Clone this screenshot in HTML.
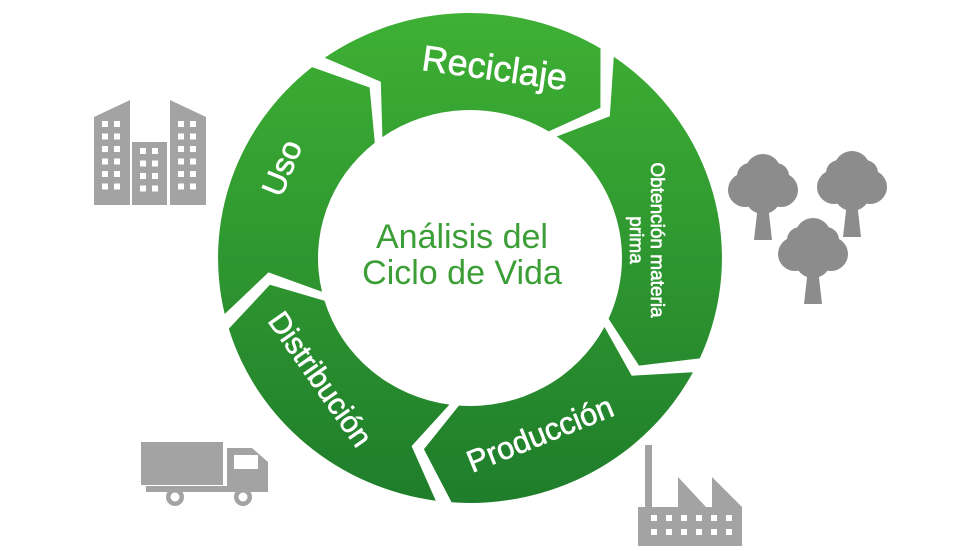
<!DOCTYPE html>
<html><head><meta charset="utf-8"><style>
html,body{margin:0;padding:0;background:#fff;}
svg{display:block;}
text{font-family:"Liberation Sans",sans-serif;}
</style></head><body>
<svg width="979" height="551" viewBox="0 0 979 551" xmlns="http://www.w3.org/2000/svg">
<defs>
<linearGradient id="g" gradientUnits="userSpaceOnUse" x1="0" y1="13" x2="0" y2="503">
<stop offset="0" stop-color="#3eb034"/><stop offset="1" stop-color="#1f7d2b"/>
</linearGradient>
</defs>
<g fill="url(#g)">
<path d="M224.7,314.0 A252,245 0 0 1 312.1,67.1 L369.6,87.5 L374.8,142.7 A152,148 0 0 0 322.0,291.8 L268.5,272.4 Z"/>
<path d="M324.7,57.8 A252,245 0 0 1 600.5,48.4 L600.4,107.9 L548.7,131.4 A152,148 0 0 0 382.4,137.1 L380.8,81.7 Z"/>
<path d="M613.8,56.8 A252,245 0 0 1 699.8,358.4 L639.0,365.6 L608.6,318.7 A152,148 0 0 0 556.7,136.5 L609.8,116.2 Z"/>
<path d="M692.9,372.3 A252,245 0 0 1 451.6,502.3 L423.9,449.3 L458.9,405.6 A152,148 0 0 0 604.5,327.0 L631.7,375.7 Z"/>
<path d="M435.8,500.7 A252,245 0 0 1 228.8,328.8 L269.9,284.7 L324.5,300.8 A152,148 0 0 0 449.4,404.6 L411.6,446.1 Z"/>
</g>

<text x="462" y="248" font-size="34" fill="#3c9e36" text-anchor="middle">Análisis del</text>
<text x="462" y="284" font-size="34" fill="#3c9e36" text-anchor="middle">Ciclo de Vida</text>

<g fill="#fff" stroke="#fff" stroke-width="0.6">
<text transform="translate(493,80) rotate(8)" font-size="36" text-anchor="middle">Reciclaje</text>
<text transform="translate(292,172) rotate(-68)" font-size="32" text-anchor="middle">Uso</text>
<text transform="translate(651,240) rotate(90)" font-size="19" text-anchor="middle">Obtención materia</text>
<text transform="translate(630,240) rotate(90)" font-size="19" text-anchor="middle">prima</text>
<text transform="translate(544,444) rotate(-22)" font-size="31" text-anchor="middle">Producción</text>
<text transform="translate(312,385) rotate(55)" font-size="30" text-anchor="middle">Distribución</text>
</g>

<g fill="#a3a3a3">
<polygon points="94,117 130,100 130,205 94,205"/>
<rect x="132" y="142" width="35" height="63"/>
<polygon points="170,100 206,117 206,205 170,205"/>
</g>
<g fill="#fff">
<rect x="102" y="121" width="6" height="6"/><rect x="114" y="121" width="6" height="6"/>
<rect x="102" y="133.5" width="6" height="6"/><rect x="114" y="133.5" width="6" height="6"/>
<rect x="102" y="146" width="6" height="6"/><rect x="114" y="146" width="6" height="6"/>
<rect x="102" y="158.5" width="6" height="6"/><rect x="114" y="158.5" width="6" height="6"/>
<rect x="102" y="171" width="6" height="6"/><rect x="114" y="171" width="6" height="6"/>
<rect x="102" y="183.5" width="6" height="6"/><rect x="114" y="183.5" width="6" height="6"/>
<rect x="178" y="121" width="6" height="6"/><rect x="190" y="121" width="6" height="6"/>
<rect x="178" y="133.5" width="6" height="6"/><rect x="190" y="133.5" width="6" height="6"/>
<rect x="178" y="146" width="6" height="6"/><rect x="190" y="146" width="6" height="6"/>
<rect x="178" y="158.5" width="6" height="6"/><rect x="190" y="158.5" width="6" height="6"/>
<rect x="178" y="171" width="6" height="6"/><rect x="190" y="171" width="6" height="6"/>
<rect x="178" y="183.5" width="6" height="6"/><rect x="190" y="183.5" width="6" height="6"/>
<rect x="140" y="148" width="6" height="6"/><rect x="152" y="148" width="6" height="6"/>
<rect x="140" y="160.5" width="6" height="6"/><rect x="152" y="160.5" width="6" height="6"/>
<rect x="140" y="173" width="6" height="6"/><rect x="152" y="173" width="6" height="6"/>
<rect x="140" y="185.5" width="6" height="6"/><rect x="152" y="185.5" width="6" height="6"/>
</g>

<g fill="#8c8c8c">
<g id="t1">
<circle cx="763" cy="172" r="18"/><circle cx="745" cy="190" r="17"/><circle cx="781" cy="190" r="17"/><circle cx="763" cy="196" r="18"/>
<circle cx="750" cy="176" r="13"/><circle cx="776" cy="176" r="13"/>
<polygon points="758,205 768,205 772,240 754,240"/>
</g>
<use href="#t1" transform="translate(89,-3)"/>
<use href="#t1" transform="translate(50,64)"/>
</g>

<g fill="#a3a3a3">
<rect x="141" y="442" width="82" height="43"/>
<polygon points="227,448 252,448 268,462 268,492 227,492"/>
<rect x="146" y="486" width="120" height="6"/>
<circle cx="175" cy="497" r="9"/><circle cx="243" cy="497" r="9"/>
</g>
<g fill="#fff"><rect x="234" y="455" width="24" height="14"/>
<circle cx="175" cy="497" r="4.5"/><circle cx="243" cy="497" r="4.5"/></g>

<g fill="#a3a3a3">
<rect x="645" y="445" width="7" height="65"/>
<polygon points="638,507 678,507 678,477 706,507 712,507 712,477 742,507 742,546 638,546"/>
</g>
<g fill="#fff">
<rect x="651" y="515" width="6" height="6"/><rect x="666" y="515" width="6" height="6"/><rect x="681" y="515" width="6" height="6"/><rect x="696" y="515" width="6" height="6"/><rect x="711" y="515" width="6" height="6"/><rect x="726" y="515" width="6" height="6"/>
<rect x="651" y="529" width="6" height="6"/><rect x="666" y="529" width="6" height="6"/><rect x="681" y="529" width="6" height="6"/><rect x="696" y="529" width="6" height="6"/><rect x="711" y="529" width="6" height="6"/><rect x="726" y="529" width="6" height="6"/>
</g>
</svg>
</body></html>
